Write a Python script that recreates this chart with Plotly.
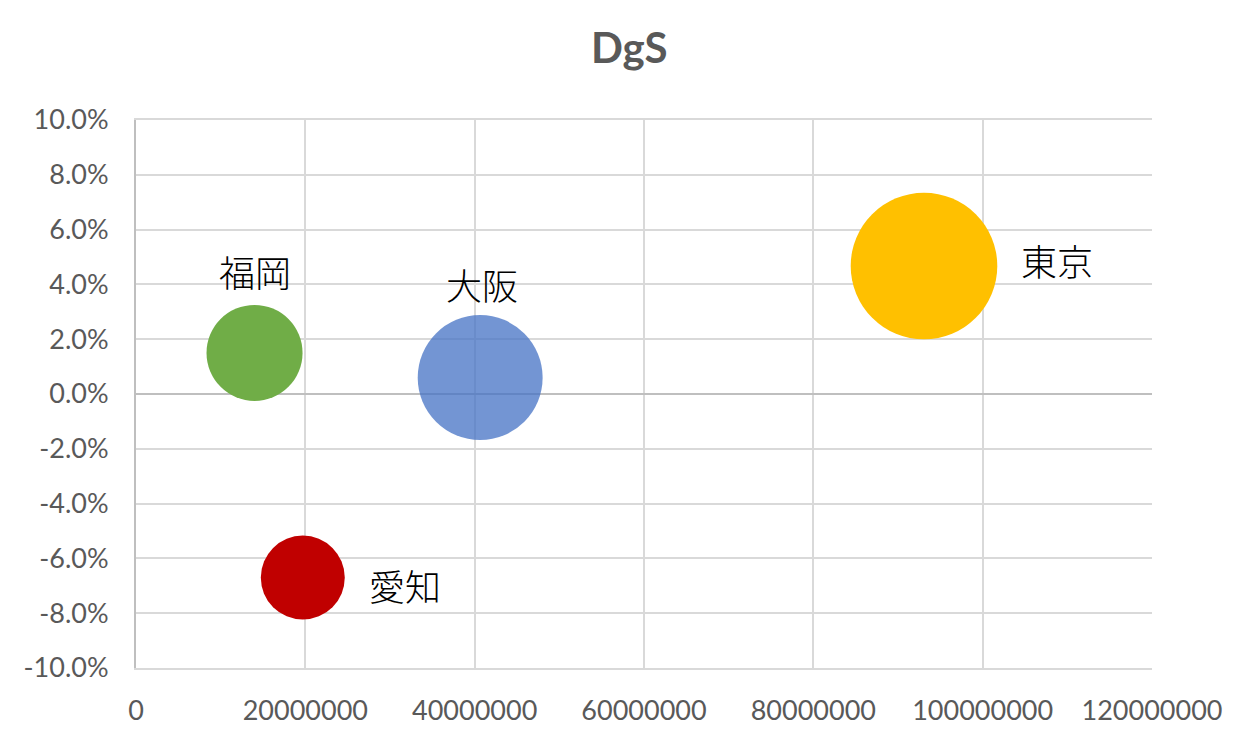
import plotly.graph_objects as go

# Data
prefectures = ["福岡", "愛知", "大阪", "東京"]
x_values = [14000000, 19700000, 40650000, 93070000]
growth = [0.015, -0.067, 0.006, 0.0467]
bubble_size = [42.9, 32.8, 72.6, 100.0]

x_tickvals = [0, 20000000, 40000000, 60000000, 80000000, 100000000, 120000000]
x_ticktext = ["0", "20000000", "40000000", "60000000", "80000000", "100000000", "120000000"]
y_tickvals = [-0.10, -0.08, -0.06, -0.04, -0.02, 0.0, 0.02, 0.04, 0.06, 0.08, 0.10]
y_ticktext = ["-10.0%", "-8.0%", "-6.0%", "-4.0%", "-2.0%", "0.0%", "2.0%", "4.0%", "6.0%", "8.0%", "10.0%"]

colors = ["#70ad47", "#c00000", "rgba(68,114,196,0.75)", "#ffc000"]
# label offsets (px) relative to bubble centre
label_dx = [0, 102, 2, 133]
label_dy = [82, -7, 94, 6]

max_radius_px = 73.3
sizeref = max(bubble_size) / (2 * max_radius_px ** 2)

fig = go.Figure()
fig.add_trace(go.Scatter(
    x=x_values, y=growth, mode="markers",
    marker=dict(size=bubble_size, sizemode="area", sizeref=sizeref,
                color=colors, opacity=1, line=dict(width=0)),
    hoverinfo="skip", showlegend=False,
))

for name, xv, yv, dx, dy in zip(prefectures, x_values, growth, label_dx, label_dy):
    fig.add_annotation(x=xv, y=yv, text=name, showarrow=False,
                       xanchor="center", yanchor="middle",
                       xshift=dx, yshift=dy,
                       font=dict(family="Noto Sans CJK JP", size=36, color="#000000", weight=300))

tick_font = dict(family="Lato", size=27, color="#595959")

fig.update_layout(
    width=1251, height=743,
    margin=dict(l=136, r=99, t=120, b=75),
    paper_bgcolor="white", plot_bgcolor="white",
    title=dict(text="<b>DgS</b>", x=0.503, xanchor="center", y=1 - 48 / 743, yanchor="middle",
               font=dict(family="Lato", size=42, color="#595959")),
    xaxis=dict(range=[0, 120000000], tickvals=x_tickvals, ticktext=x_ticktext,
               showgrid=True, gridcolor="#d9d9d9", gridwidth=2,
               zeroline=False, showline=True, linecolor="#d9d9d9", linewidth=2, mirror=True,
               ticks="", tickfont=tick_font, ticklabelstandoff=18, automargin=False),
    yaxis=dict(range=[-0.1, 0.1], tickvals=y_tickvals, ticktext=y_ticktext,
               showgrid=True, gridcolor="#d9d9d9", gridwidth=2,
               zeroline=True, zerolinecolor="#bfbfbf", zerolinewidth=2,
               showline=True, linecolor="#bfbfbf", linewidth=2, mirror=False,
               ticks="", tickfont=tick_font, ticklabelstandoff=20, automargin=False),
)

fig.write_html("out.html", config={"displayModeBar": False},
               post_script="document.body.style.margin='0';")
